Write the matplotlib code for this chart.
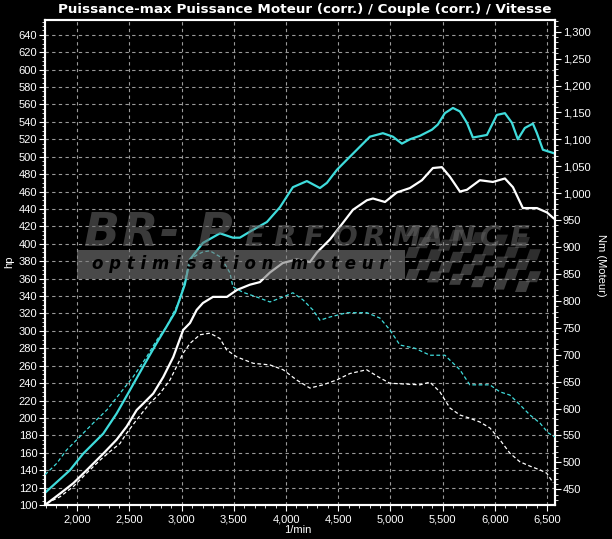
import matplotlib
matplotlib.use('Agg')
import matplotlib.pyplot as plt
from matplotlib.ticker import MultipleLocator, FuncFormatter
from matplotlib.patches import Rectangle, Polygon

# ---------------- data ----------------
rpm_pow_tuned = [1691, 1930, 2057, 2249, 2377, 2505, 2632, 2761, 2856, 2940, 3030, 3080, 3204, 3367,
                 3491, 3558, 3683, 3817, 3942, 4066, 4200, 4325, 4392, 4488, 4612, 4804, 4928,
                 5024, 5110, 5187, 5283, 5398, 5455, 5522, 5599, 5666, 5733, 5790, 5925, 6020,
                 6097, 6164, 6221, 6288, 6365, 6404, 6461, 6566]
hp_pow_tuned = [114, 140, 159, 182, 205, 232, 259, 286, 305, 322, 353, 382, 401, 412,
                407, 407, 416, 425, 442, 465, 472, 464, 470, 485, 500, 523, 527,
                523, 515, 520, 524, 531, 537, 550, 556, 552, 539, 522, 525, 548,
                550, 539, 520, 533, 538, 527, 508, 504]

rpm_pow_stock = [1691, 1834, 1962, 2090, 2249, 2377, 2473, 2569, 2728, 2824, 2920, 3015, 3080, 3144,
                 3204, 3300, 3434, 3530, 3654, 3750, 3846, 3970, 4104, 4229, 4296, 4421, 4545,
                 4641, 4775, 4833, 4948, 5062, 5187, 5302, 5407, 5493, 5570, 5666, 5733, 5857,
                 5982, 6097, 6174, 6269, 6404, 6500, 6566]
hp_pow_stock = [100, 113, 125, 140, 159, 175, 190, 209, 228, 247, 270, 301, 309, 324,
                332, 339, 339, 347, 353, 356, 367, 378, 382, 379, 390, 405, 424,
                439, 450, 452, 448, 459, 464, 473, 487, 488, 477, 460, 462, 473,
                471, 475, 465, 441, 441, 436, 429]

rpm_trq_tuned = [1691, 1803, 1898, 2026, 2153, 2282, 2409, 2536, 2665, 2761, 2856, 2984, 3080, 3144,
                 3204, 3271, 3376, 3463, 3491, 3587, 3721, 3846, 3970, 4066, 4162, 4258, 4325,
                 4421, 4583, 4775, 4900, 4995, 5091, 5235, 5379, 5522, 5666, 5761, 5953, 6049,
                 6145, 6241, 6337, 6433, 6510, 6577]
nm_trq_tuned = [477, 498, 523, 548, 573, 597, 628, 659, 696, 727, 752, 802, 876, 885,
                891, 893, 881, 852, 826, 816, 807, 798, 807, 815, 802, 783, 764,
                770, 778, 778, 768, 746, 718, 712, 699, 699, 672, 644, 644, 631,
                625, 607, 588, 573, 555, 547]

rpm_trq_stock = [1707, 1834, 1962, 2090, 2217, 2313, 2409, 2473, 2569, 2696, 2792, 2888, 2952, 3015,
                 3080, 3175, 3271, 3367, 3431, 3527, 3686, 3846, 3973, 4102, 4229, 4354, 4485,
                 4612, 4772, 4900, 4995, 5283, 5379, 5474, 5570, 5666, 5761, 5857, 5953, 6049,
                 6145, 6241, 6337, 6433, 6497, 6560]
nm_trq_stock = [424, 436, 455, 480, 504, 520, 535, 554, 579, 610, 628, 653, 678, 703,
                721, 737, 740, 730, 709, 696, 684, 681, 672, 653, 638, 644, 653,
                665, 672, 657, 647, 644, 649, 631, 601, 588, 582, 575, 564, 542,
                517, 501, 493, 486, 480, 462]

hp_ticks = list(range(100, 641, 20))
nm_ticks = list(range(450, 1301, 50))
rpm_ticks = list(range(2000, 6501, 500))

title = "Puissance-max Puissance Moteur (corr.) / Couple (corr.) / Vitesse"

# ---------------- figure ----------------
W, H = 612, 539
fig = plt.figure(figsize=(W / 100, H / 100), dpi=100, facecolor='black')
L, R, T, B = 45, 555, 20, 505
ax = fig.add_axes([L / W, 1 - B / H, (R - L) / W, (B - T) / H])
ax.set_facecolor('black')
ax2 = ax.twinx()

ax.set_xlim(1691, 6577)
ax.set_ylim(100, 657)
ax2.set_ylim(420.8, 1321.7)

CYAN = '#3fdcdc'
ax.plot(rpm_pow_tuned, hp_pow_tuned, color=CYAN, lw=1.6, zorder=3,
        solid_joinstyle='round', solid_capstyle='round')
ax.plot(rpm_pow_stock, hp_pow_stock, color='white', lw=1.6, zorder=3,
        solid_joinstyle='round', solid_capstyle='round')
ax2.plot(rpm_trq_tuned, nm_trq_tuned, color=CYAN, lw=0.9, ls=(0, (3, 2)), zorder=3)
ax2.plot(rpm_trq_stock, nm_trq_stock, color='white', lw=0.9, ls=(0, (3, 2)), zorder=3)

fmt = FuncFormatter(lambda v, p: '{:,.0f}'.format(v))
ax.set_xticks(rpm_ticks)
ax.xaxis.set_major_formatter(fmt)
ax.xaxis.set_minor_locator(MultipleLocator(100))
ax.set_yticks(hp_ticks)
ax.yaxis.set_minor_locator(MultipleLocator(5))
ax2.set_yticks(nm_ticks)
ax2.yaxis.set_major_formatter(fmt)
ax2.yaxis.set_minor_locator(MultipleLocator(10))

for a in (ax, ax2):
    a.tick_params(which='major', direction='out', length=4, width=0.8, color='white',
                  labelcolor='white', labelsize=8, pad=1.5)
    a.tick_params(which='minor', direction='out', length=2, width=0.6, color='white')
    for s in a.spines.values():
        s.set_color('white')
        s.set_linewidth(1.5)
    for lab in a.get_xticklabels() + a.get_yticklabels():
        lab.set_fontfamily('Liberation Sans')
ax.tick_params(axis='x', pad=3)

ax.set_axisbelow(True)
ax.grid(True, which='major', color='#9a9a9a', lw=0.8, ls=(0, (3, 3)))

# ---------------- watermark ----------------
def ac(px, py):
    return ((px - L) / (R - L), (B - py) / (B - T))

band_col = '#7a7a7a'
x0, y0 = ac(77, 279)
x1, y1 = ac(405, 250)
ax2.add_patch(Rectangle((x0, y0), x1 - x0, y1 - y0, transform=ax2.transAxes,
                        facecolor=band_col, alpha=0.6, lw=0, zorder=8))
# checkered flag part
cell = 11
for i in range(12):
    for j in range(5):
        if (i + j) % 2:
            continue
        px0 = 405 + i * cell
        py0 = 280 - (j + 1) * cell + (i * 1.2)
        if px0 + cell > 540 or py0 < 205:
            continue
        sk = 4
        pts = [ac(px0, py0 + cell), ac(px0 + cell, py0 + cell),
               ac(px0 + cell + sk, py0), ac(px0 + sk, py0)]
        a_ = 0.5 - 0.04 * j
        ax2.add_patch(Polygon(pts, closed=True, transform=ax2.transAxes,
                              facecolor=band_col, alpha=a_, lw=0, zorder=8))

wm_kw = dict(transform=ax2.transAxes, fontweight='bold', fontstyle='italic',
             family='DejaVu Sans', color='#6a6a6a', alpha=0.55,
             ha='left', va='baseline', zorder=9)
for k, ch in enumerate('BR-P'):
    tx, ty = ac(84 + k * 38, 246)
    ax2.text(tx, ty, ch, fontsize=34, **wm_kw)
for k, ch in enumerate('ERFORMANCE'):
    tx, ty = ac(244 + k * 29.5, 246)
    ax2.text(tx, ty, ch, fontsize=21, **wm_kw)
tx, ty = ac(92, 264)
ax2.text(tx, ty, 'o p t i m i s a t i o n   m o t e u r', transform=ax2.transAxes,
         fontsize=12, fontweight='bold', fontstyle='italic', family='DejaVu Sans',
         color='black', ha='left', va='center', zorder=9)

# ---------------- texts ----------------
fig.text(305 / W, 1 - 9 / H, title, ha='center', va='center', color='white',
         fontsize=9.7, fontweight='bold', family='DejaVu Sans')
fig.text(9 / W, 1 - 262 / H, 'hp', rotation=90, ha='center', va='center',
         color='white', fontsize=8, family='Liberation Sans')
fig.text(601 / W, 1 - 265 / H, 'Nm (Moteur)', rotation=-90, ha='center', va='center',
         color='white', fontsize=8, family='Liberation Sans')
fig.text(298 / W, 1 - 530 / H, '1/min', ha='center', va='center',
         color='white', fontsize=8, family='Liberation Sans')

fig.savefig('out.png', dpi=100, facecolor='black')
